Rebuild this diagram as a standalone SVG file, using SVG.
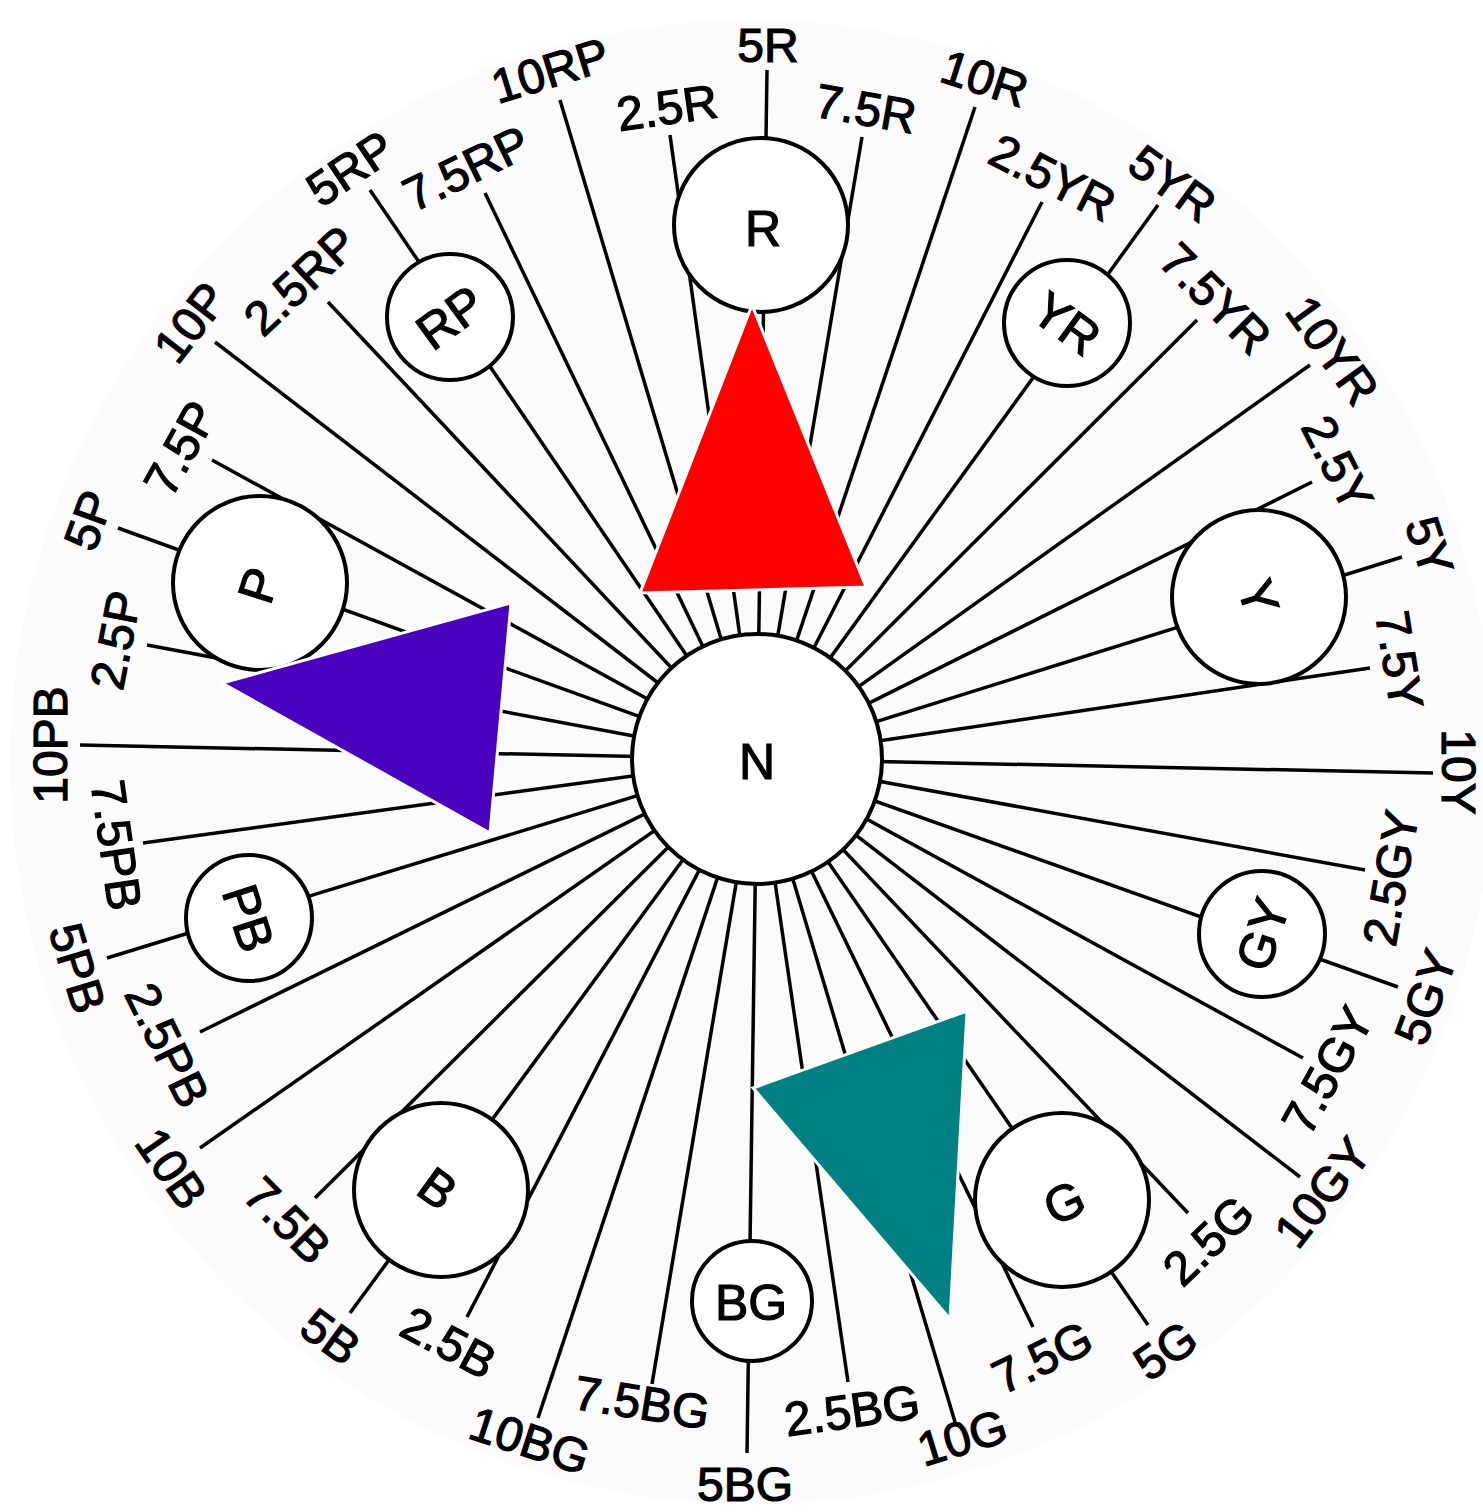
<svg xmlns="http://www.w3.org/2000/svg" width="1483" height="1512" viewBox="0 0 1483 1512">
<style>
.sp{stroke:#000;stroke-width:3.5;stroke-linecap:butt}
.hc{fill:#fff;stroke:#000;stroke-width:4}
.t{font-family:"Liberation Sans",Arial,sans-serif;font-size:48px;fill:#000;stroke:#000;stroke-width:1.2;text-anchor:middle}
.c{font-family:"Liberation Sans",Arial,sans-serif;font-size:50px;fill:#000;stroke:#000;stroke-width:1.2;text-anchor:middle}
.tri{stroke:#fff;stroke-width:3;stroke-linejoin:miter}
</style>
<rect width="1483" height="1512" fill="#fff"/>
<circle cx="752" cy="762" r="742" fill="#fbfbfb"/>
<g id="connectors">
<line class="sp" x1="757" y1="759" x2="767" y2="70"/>
<line class="sp" x1="757" y1="759" x2="862" y2="137"/>
<line class="sp" x1="757" y1="759" x2="975" y2="107"/>
<line class="sp" x1="757" y1="759" x2="1042" y2="202"/>
<line class="sp" x1="757" y1="759" x2="1158" y2="205"/>
<line class="sp" x1="757" y1="759" x2="1197" y2="320"/>
<line class="sp" x1="757" y1="759" x2="1310" y2="365"/>
<line class="sp" x1="757" y1="759" x2="1312" y2="482"/>
<line class="sp" x1="757" y1="759" x2="1402" y2="557"/>
<line class="sp" x1="757" y1="759" x2="1370" y2="668"/>
<line class="sp" x1="757" y1="759" x2="1433" y2="773"/>
<line class="sp" x1="757" y1="759" x2="1365" y2="870"/>
<line class="sp" x1="757" y1="759" x2="1398" y2="987"/>
<line class="sp" x1="757" y1="759" x2="1303" y2="1058"/>
<line class="sp" x1="757" y1="759" x2="1300" y2="1177"/>
<line class="sp" x1="757" y1="759" x2="1188" y2="1213"/>
<line class="sp" x1="757" y1="759" x2="1148" y2="1325"/>
<line class="sp" x1="757" y1="759" x2="1033" y2="1327"/>
<line class="sp" x1="757" y1="759" x2="955" y2="1422"/>
<line class="sp" x1="757" y1="759" x2="848" y2="1382"/>
<line class="sp" x1="757" y1="759" x2="747" y2="1453"/>
<line class="sp" x1="757" y1="759" x2="652" y2="1384"/>
<line class="sp" x1="757" y1="759" x2="538" y2="1418"/>
<line class="sp" x1="757" y1="759" x2="467" y2="1317"/>
<line class="sp" x1="757" y1="759" x2="350" y2="1313"/>
<line class="sp" x1="757" y1="759" x2="315" y2="1198"/>
<line class="sp" x1="757" y1="759" x2="200" y2="1148"/>
<line class="sp" x1="757" y1="759" x2="200" y2="1032"/>
<line class="sp" x1="757" y1="759" x2="107" y2="958"/>
<line class="sp" x1="757" y1="759" x2="143" y2="843"/>
<line class="sp" x1="757" y1="759" x2="80" y2="745"/>
<line class="sp" x1="757" y1="759" x2="147" y2="645"/>
<line class="sp" x1="757" y1="759" x2="118" y2="528"/>
<line class="sp" x1="757" y1="759" x2="212" y2="460"/>
<line class="sp" x1="757" y1="759" x2="215" y2="342"/>
<line class="sp" x1="757" y1="759" x2="328" y2="302"/>
<line class="sp" x1="757" y1="759" x2="370" y2="190"/>
<line class="sp" x1="757" y1="759" x2="485" y2="193"/>
<line class="sp" x1="757" y1="759" x2="560" y2="100"/>
<line class="sp" x1="757" y1="759" x2="670" y2="135"/>
</g>
<g id="node-R"><circle class="hc" cx="761" cy="225" r="87"/><text class="c" dy=".36em" transform="translate(763,228)">R</text></g>
<g id="node-YR"><circle class="hc" cx="1067" cy="323" r="63"/><text class="c" dy=".36em" transform="translate(1067,323) rotate(36)">YR</text></g>
<g id="node-Y"><circle class="hc" cx="1259" cy="597" r="87"/><text class="c" dy=".36em" transform="translate(1259,597) rotate(72)">Y</text></g>
<g id="node-GY"><circle class="hc" cx="1262" cy="934" r="63"/><text class="c" dy=".36em" transform="translate(1262,934) rotate(-72)">GY</text></g>
<g id="node-G"><circle class="hc" cx="1062" cy="1200" r="87"/><text class="c" dy=".36em" transform="translate(1064,1202) rotate(-25)">G</text></g>
<g id="node-BG"><circle class="hc" cx="752" cy="1301" r="60"/><text class="c" dy=".36em" transform="translate(751,1302)">BG</text></g>
<g id="node-B"><circle class="hc" cx="441" cy="1190" r="87"/><text class="c" dy=".36em" transform="translate(438,1188) rotate(36)">B</text></g>
<g id="node-PB"><circle class="hc" cx="249" cy="918" r="63"/><text class="c" dy=".36em" transform="translate(249,918) rotate(72)">PB</text></g>
<g id="node-P"><circle class="hc" cx="260" cy="583" r="87"/><text class="c" dy=".36em" transform="translate(258,585) rotate(-72)">P</text></g>
<g id="node-RP"><circle class="hc" cx="450" cy="317" r="63"/><text class="c" dy=".36em" transform="translate(450,317) rotate(-36)">RP</text></g>
<g id="node-N"><circle class="hc" cx="757" cy="759" r="125"/><text class="c" dy=".36em" transform="translate(757,761)">N</text></g>
<g id="labels">
<text class="t" dy=".36em" transform="translate(768,45) rotate(0)">5R</text>
<text class="t" dy=".36em" transform="translate(866,108) rotate(10)">7.5R</text>
<text class="t" dy=".36em" transform="translate(985,78) rotate(18)">10R</text>
<text class="t" dy=".36em" transform="translate(1053,177) rotate(27)">2.5YR</text>
<text class="t" dy=".36em" transform="translate(1173,183) rotate(36)">5YR</text>
<text class="t" dy=".36em" transform="translate(1216,298) rotate(45)">7.5YR</text>
<text class="t" dy=".36em" transform="translate(1333,350) rotate(54)">10YR</text>
<text class="t" dy=".36em" transform="translate(1338,463) rotate(63)">2.5Y</text>
<text class="t" dy=".36em" transform="translate(1430,546) rotate(72)">5Y</text>
<text class="t" dy=".36em" transform="translate(1400,660) rotate(81)">7.5Y</text>
<text class="t" dy=".36em" transform="translate(1459,772) rotate(90)">10Y</text>
<text class="t" dy=".36em" transform="translate(1390,878) rotate(-80)">2.5GY</text>
<text class="t" dy=".36em" transform="translate(1425,997) rotate(-70)">5GY</text>
<text class="t" dy=".36em" transform="translate(1327,1070) rotate(-61)">7.5GY</text>
<text class="t" dy=".36em" transform="translate(1322,1192) rotate(-52)">10GY</text>
<text class="t" dy=".36em" transform="translate(1208,1240) rotate(-44)">2.5G</text>
<text class="t" dy=".36em" transform="translate(1165,1350) rotate(-35)">5G</text>
<text class="t" dy=".36em" transform="translate(1042,1357) rotate(-26)">7.5G</text>
<text class="t" dy=".36em" transform="translate(962,1437) rotate(-17)">10G</text>
<text class="t" dy=".36em" transform="translate(852,1410) rotate(-8)">2.5BG</text>
<text class="t" dy=".36em" transform="translate(745,1484) rotate(0)">5BG</text>
<text class="t" dy=".36em" transform="translate(642,1402) rotate(9)">7.5BG</text>
<text class="t" dy=".36em" transform="translate(530,1440) rotate(18)">10BG</text>
<text class="t" dy=".36em" transform="translate(449,1342) rotate(28)">2.5B</text>
<text class="t" dy=".36em" transform="translate(331,1336) rotate(36)">5B</text>
<text class="t" dy=".36em" transform="translate(288,1220) rotate(45)">7.5B</text>
<text class="t" dy=".36em" transform="translate(172,1168) rotate(55)">10B</text>
<text class="t" dy=".36em" transform="translate(168,1045) rotate(64)">2.5PB</text>
<text class="t" dy=".36em" transform="translate(78,968) rotate(73)">5PB</text>
<text class="t" dy=".36em" transform="translate(117,845) rotate(82)">7.5PB</text>
<text class="t" dy=".36em" transform="translate(50,745) rotate(-90)">10PB</text>
<text class="t" dy=".36em" transform="translate(115,640) rotate(-79)">2.5P</text>
<text class="t" dy=".36em" transform="translate(88,520) rotate(-70)">5P</text>
<text class="t" dy=".36em" transform="translate(180,448) rotate(-61)">7.5P</text>
<text class="t" dy=".36em" transform="translate(190,322) rotate(-52)">10P</text>
<text class="t" dy=".36em" transform="translate(300,280) rotate(-43)">2.5RP</text>
<text class="t" dy=".36em" transform="translate(350,168) rotate(-34)">5RP</text>
<text class="t" dy=".36em" transform="translate(466,168) rotate(-26)">7.5RP</text>
<text class="t" dy=".36em" transform="translate(550,70) rotate(-17)">10RP</text>
<text class="t" dy=".36em" transform="translate(667,107) rotate(-8)">2.5R</text>
</g>
<g id="triangles">
<polygon class="tri" fill="#ff0000" points="752,305 640,593 866,587"/>
<polygon class="tri" fill="#4a00bf" points="511,603 222,683 490,833"/>
<polygon class="tri" fill="#008080" points="967,1011 753,1088 950,1319"/>
</g>
</svg>
